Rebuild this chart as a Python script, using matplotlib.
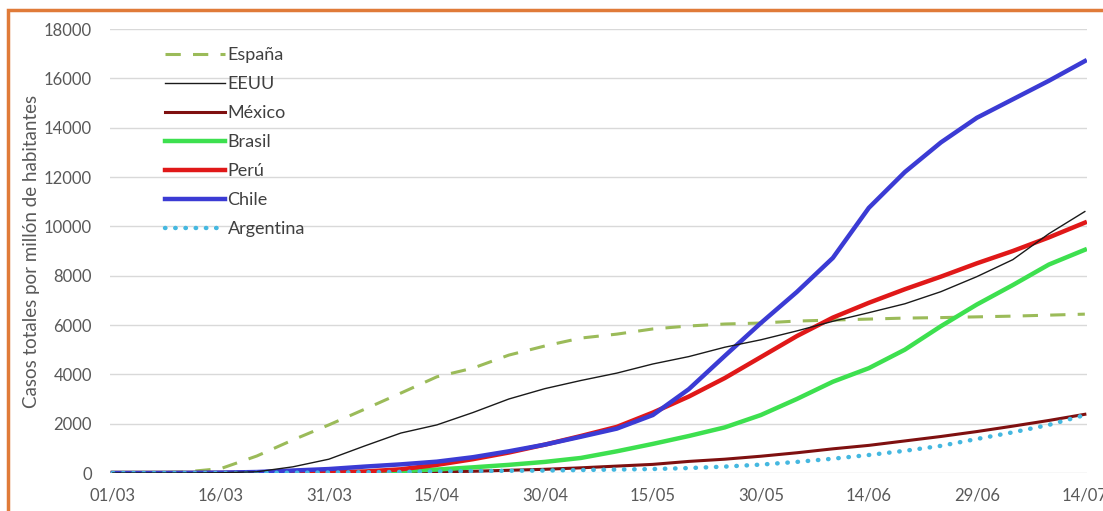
import matplotlib
matplotlib.use("Agg")
import matplotlib.pyplot as plt
from matplotlib.patches import Rectangle

plt.rcParams['font.family'] = ['Lato', 'DejaVu Sans']

# day offsets from 01/03
days = list(range(0, 136, 5))
tick_days = [0, 15, 30, 45, 60, 75, 90, 105, 120, 135]
tick_labels = ['01/03', '16/03', '31/03', '15/04', '30/04', '15/05', '30/05', '14/06', '29/06', '14/07']

espana = [0, 5, 40, 180, 690, 1340, 1950, 2590, 3240, 3900, 4250, 4780, 5150, 5470,
          5630, 5840, 5960, 6040, 6080, 6160, 6200, 6240, 6280, 6300, 6330, 6360, 6400, 6440]
eeuu = [0, 0, 0, 10, 50, 250, 560, 1100, 1620, 1950, 2450, 3000, 3420, 3750,
        4050, 4420, 4720, 5100, 5400, 5760, 6150, 6500, 6860, 7350, 7960, 8650, 9700, 10600]
mexico = [0, 0, 0, 0, 2, 4, 8, 15, 25, 45, 70, 110, 150, 210,
          280, 350, 470, 560, 680, 820, 980, 1120, 1300, 1480, 1680, 1900, 2130, 2380]
brasil = [0, 0, 0, 0, 2, 5, 20, 40, 80, 140, 230, 330, 450, 610,
          880, 1180, 1500, 1850, 2350, 3000, 3700, 4250, 5000, 5950, 6830, 7620, 8450, 9050]
peru = [0, 0, 0, 0, 2, 10, 30, 60, 150, 330, 560, 830, 1150, 1500,
        1870, 2450, 3100, 3850, 4700, 5550, 6300, 6900, 7450, 7960, 8500, 9000, 9550, 10150]
chile = [0, 0, 5, 15, 40, 100, 160, 260, 350, 460, 640, 880, 1150, 1470,
         1800, 2350, 3400, 4750, 6080, 7340, 8720, 10750, 12200, 13400, 14400, 15150, 15900, 16700]
argentina = [0, 0, 0, 0, 5, 10, 20, 30, 45, 60, 75, 90, 100, 120,
             140, 160, 200, 260, 340, 450, 580, 730, 900, 1100, 1380, 1650, 1950, 2350]

W, H = 1103, 511
fig = plt.figure(figsize=(W / 100, H / 100), dpi=100)
fig.patch.set_facecolor('white')

# orange frame
fig.add_artist(Rectangle((8 / W, -0.1), 1.2, (H - 10) / H + 0.1, transform=fig.transFigure,
                         fill=False, edgecolor='#E07B39', linewidth=2.5))

ax = fig.add_axes([110 / W, 1 - 473 / H, (1087 - 110) / W, (473 - 29) / H])

ax.plot(days, espana, color='#9BBB59', lw=2.2, dashes=(5, 4), label='España', zorder=3)
ax.plot(days, eeuu, color='#1a1a1a', lw=1.0, label='EEUU', zorder=4)
ax.plot(days, mexico, color='#7F1010', lw=2.2, label='México', zorder=3)
ax.plot(days, brasil, color='#3DE04F', lw=3.2, label='Brasil', zorder=3)
ax.plot(days, peru, color='#E01818', lw=3.2, label='Perú', zorder=3)
ax.plot(days, chile, color='#3B3BD4', lw=3.2, label='Chile', zorder=3)
ax.plot(days, argentina, color='#45B8E0', lw=3.2, linestyle=(0, (0.1, 2.2)),
        dash_capstyle='round', solid_capstyle='round', label='Argentina', zorder=3)

ax.set_ylim(0, 18000)
ax.set_xlim(-0.4, 135.3)
ax.set_yticks(range(0, 18001, 2000))
ax.set_xticks(tick_days)
ax.set_xticklabels(tick_labels)
ax.grid(axis='y', color='#D9D9D9', lw=1)
ax.set_axisbelow(True)
for s in ax.spines.values():
    s.set_visible(False)
ax.tick_params(length=0, labelsize=12, colors='#595959')
ax.tick_params(axis='x', pad=10.5)
ax.tick_params(axis='y', pad=13)
ax.set_ylabel('Casos totales por millón de habitantes', fontsize=13.5, color='#595959', labelpad=3)

leg = ax.legend(loc='upper left', bbox_to_anchor=(0.04, 0.995), frameon=False, fontsize=13,
                labelcolor='#404040', handlelength=3.3, handletextpad=0.15, labelspacing=0.72)

fig.savefig('out.png', dpi=100, facecolor='white')
